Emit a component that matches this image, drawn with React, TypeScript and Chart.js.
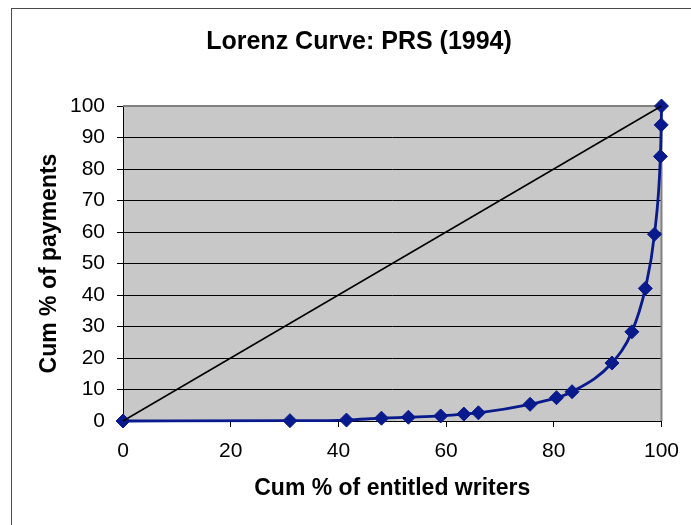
import { useEffect, useRef } from 'react';
import { Chart, registerables } from 'chart.js';

Chart.register(...registerables);

const FONT = "'Liberation Sans', Arial, Helvetica, sans-serif";

const chartTitle = 'Lorenz Curve: PRS (1994)';
const xAxisTitle = 'Cum % of entitled writers';
const yAxisTitle = 'Cum % of payments';

// Cumulative % of entitled writers (x) and cumulative % of payments (y)
const writersPct = [0, 31, 41.5, 48, 53, 59, 63.3, 66, 75.6, 80.5, 83.4, 90.8, 94.5, 97, 98.7, 99.8, 99.95, 100];
const paymentsPct = [0, 0.1, 0.3, 0.9, 1.2, 1.6, 2.2, 2.6, 5.3, 7.4, 9.3, 18.4, 28.3, 42.1, 59.3, 84, 94, 100];

// Line of equality
const equalityX = [0, 100];
const equalityY = [0, 100];

const xTicks = { min: 0, max: 100, step: 20 };
const yTicks = { min: 0, max: 100, step: 10 };

const SERIES_COLOR = '#081a8c';

export default function App() {
  const ref = useRef<HTMLCanvasElement>(null);

  useEffect(() => {
    if (!ref.current) return;

    const framePlugin = {
      id: 'frame',
      beforeDraw(chart: any) {
        const ctx = chart.ctx;
        const a = chart.chartArea;
        ctx.save();
        ctx.fillStyle = '#ffffff';
        ctx.fillRect(0, 0, chart.width, chart.height);
        ctx.strokeStyle = '#4a4a4a';
        ctx.lineWidth = 1;
        ctx.strokeRect(11.5, 8.5, 900, 900);
        ctx.fillStyle = '#c8c8c8';
        ctx.fillRect(a.left, a.top, a.right - a.left, a.bottom - a.top);
        ctx.restore();
      },
      beforeDatasetsDraw(chart: any) {
        const ctx = chart.ctx;
        const a = chart.chartArea;
        ctx.save();
        ctx.strokeStyle = '#808080';
        ctx.lineWidth = 2;
        ctx.beginPath();
        ctx.moveTo(a.left, a.top);
        ctx.lineTo(a.right, a.top);
        ctx.lineTo(a.right, a.bottom);
        ctx.stroke();
        ctx.restore();
      },
    };

    const chart = new Chart(ref.current, {
      type: 'line',
      data: {
        datasets: [
          {
            label: 'Equality',
            data: equalityX.map((x, i) => ({ x, y: equalityY[i] })),
            borderColor: '#000000',
            borderWidth: 1.5,
            pointRadius: 0,
            pointHoverRadius: 0,
            tension: 0,
            clip: false as any,
          },
          {
            label: 'PRS 1994',
            data: writersPct.map((x, i) => ({ x, y: paymentsPct[i] })),
            borderColor: SERIES_COLOR,
            backgroundColor: SERIES_COLOR,
            borderWidth: 2.8,
            pointStyle: 'rectRot',
            pointRadius: 7,
            pointHoverRadius: 7,
            pointBorderWidth: 1,
            pointBackgroundColor: SERIES_COLOR,
            pointBorderColor: SERIES_COLOR,
            cubicInterpolationMode: 'monotone',
            clip: false as any,
          },
        ],
      },
      options: {
        responsive: false,
        animation: false,
        events: [],
        layout: { padding: { left: 56, right: 29, top: 0, bottom: 23 } },
        plugins: {
          legend: { display: false },
          tooltip: { enabled: false },
          title: {
            display: true,
            text: chartTitle,
            color: '#000',
            font: { family: FONT, size: 25, weight: 'bold' },
            padding: { top: 27.5, bottom: 48.5 },
          },
        },
        scales: {
          x: {
            type: 'linear',
            position: 'bottom',
            min: xTicks.min,
            max: xTicks.max,
            ticks: {
              stepSize: xTicks.step,
              color: '#000',
              font: { family: FONT, size: 21 },
              padding: 12,
            },
            grid: { drawOnChartArea: false, drawTicks: true, tickLength: 6, color: '#000', lineWidth: 1 },
            border: { display: true, color: '#000', width: 1 },
            title: {
              display: true,
              text: xAxisTitle,
              color: '#000',
              font: { family: FONT, size: 23, weight: 'bold' },
              padding: { top: 0, bottom: 0 },
            },
            afterFit: (s: any) => {
              s.height = 81;
            },
          },
          y: {
            type: 'linear',
            min: yTicks.min,
            max: yTicks.max,
            ticks: {
              stepSize: yTicks.step,
              color: '#000',
              font: { family: FONT, size: 21 },
              padding: 12,
            },
            grid: { color: '#000', lineWidth: 1, tickLength: 6, drawTicks: true },
            border: { display: true, color: '#000', width: 1 },
            title: {
              display: true,
              text: yAxisTitle,
              color: '#000',
              font: { family: FONT, size: 23, weight: 'bold' },
              padding: { top: -20, bottom: 0 },
            },
            afterFit: (s: any) => {
              s.width = 67;
            },
          },
        },
      },
      plugins: [framePlugin],
    });

    return () => chart.destroy();
  }, []);

  return (
    <div style={{ position: 'fixed', left: 0, top: 0, width: 691, height: 525, background: '#fff' }}>
      <canvas ref={ref} width={691} height={525} style={{ display: 'block' }} />
    </div>
  );
}
